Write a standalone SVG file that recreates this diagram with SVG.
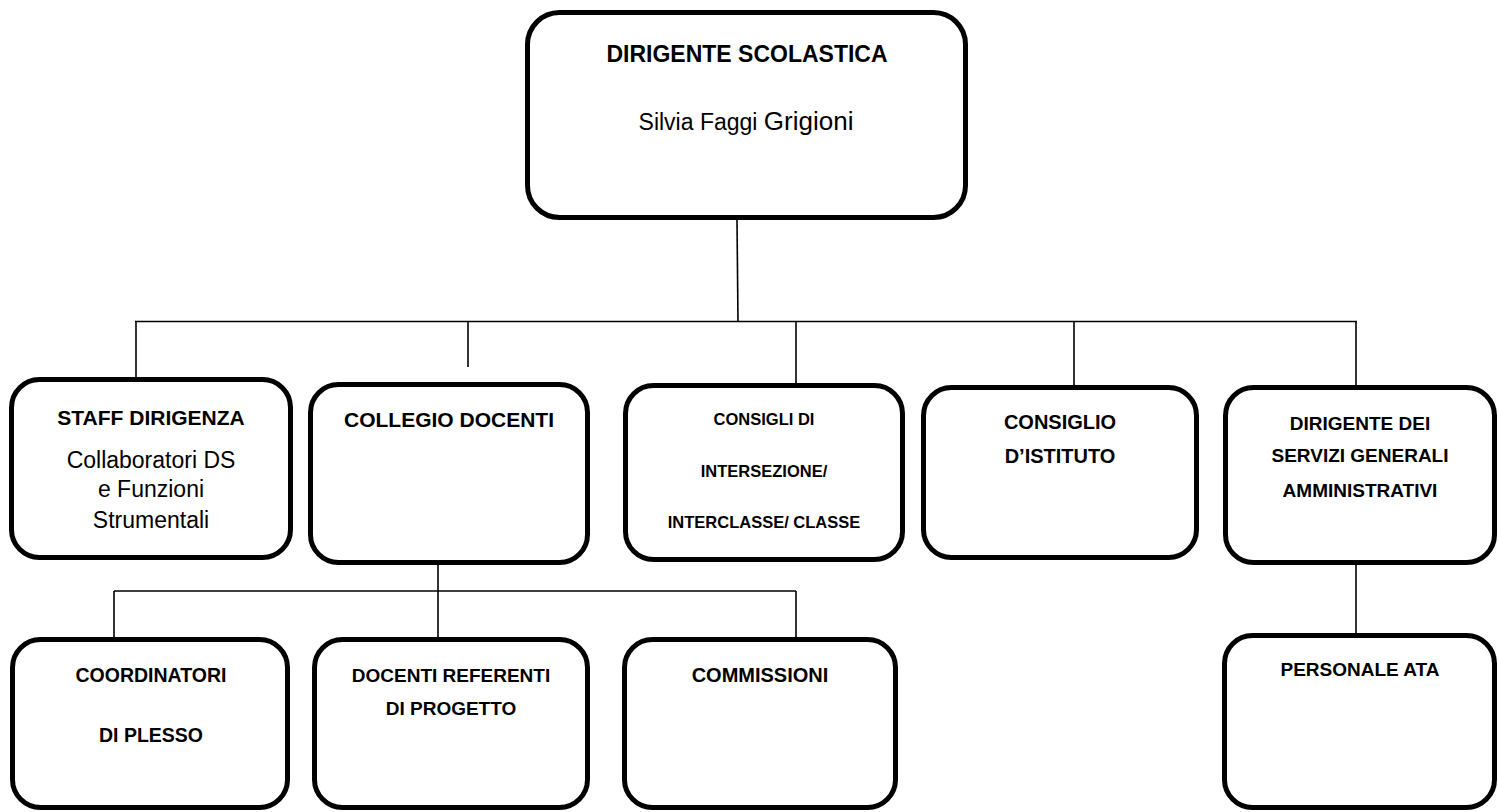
<svg xmlns="http://www.w3.org/2000/svg" width="1498" height="812" viewBox="0 0 1498 812">
<style>
.box{fill:#fff;stroke:#000;stroke-width:5}
.con{fill:none;stroke:#000;stroke-width:1.6}
text{font-family:"Liberation Sans","Open Sans",Arial,sans-serif;fill:#000;text-anchor:middle}
.b{font-weight:bold;font-size:20px}
.r{font-size:23px}
</style>
<rect width="1498" height="812" fill="#fff"/>
<g id="connectors">
<path class="con" d="M737 220 L738 321.5"/>
<path class="con" d="M135 321.5 H1357"/>
<path class="con" d="M136 321.5 V377"/>
<path class="con" d="M468 321.5 V367"/>
<path class="con" d="M796 321.5 V383"/>
<path class="con" d="M1074 321.5 V385"/>
<path class="con" d="M1356 321.5 V385"/>
<path class="con" d="M114 591 H796"/>
<path class="con" d="M114 591 V637"/>
<path class="con" d="M438 565 V637"/>
<path class="con" d="M796 591 V637"/>
<path class="con" d="M1356 565 V633"/>
</g>
<g id="dirigente">
<rect class="box" x="527.5" y="12.5" width="438" height="205" rx="32"/>
<text class="b" x="747" y="62" style="font-size:23px">DIRIGENTE SCOLASTICA</text>
<text x="746" y="130" style="font-size:23px">Silvia Faggi <tspan style="font-size:26px">Grigioni</tspan></text>
</g>
<g id="staff">
<rect class="box" x="11.5" y="379.5" width="279" height="178" rx="28"/>
<text class="b" x="151" y="425" style="font-size:21px">STAFF DIRIGENZA</text>
<text class="r" x="151" y="468">Collaboratori DS</text>
<text class="r" x="151" y="497">e Funzioni</text>
<text class="r" x="151" y="528">Strumentali</text>
</g>
<g id="collegio">
<rect class="box" x="310.5" y="384.5" width="277" height="178" rx="28"/>
<text class="b" x="449" y="427" style="font-size:21px">COLLEGIO DOCENTI</text>
</g>
<g id="consigli">
<rect class="box" x="625.5" y="385.5" width="277" height="174" rx="28"/>
<text class="b" x="764" y="425" style="font-size:16.5px">CONSIGLI DI</text>
<text class="b" x="764" y="477" style="font-size:16.5px">INTERSEZIONE/</text>
<text class="b" x="764" y="528" style="font-size:16.5px">INTERCLASSE/ CLASSE</text>
</g>
<g id="consiglio-istituto">
<rect class="box" x="923.5" y="387.5" width="273" height="170" rx="28"/>
<text class="b" x="1060" y="429">CONSIGLIO</text>
<text class="b" x="1060" y="463">D’ISTITUTO</text>
</g>
<g id="dsga">
<rect class="box" x="1225.5" y="387.5" width="269" height="175" rx="28"/>
<text class="b" x="1360" y="430" style="font-size:19px">DIRIGENTE DEI</text>
<text class="b" x="1360" y="462" style="font-size:19px">SERVIZI GENERALI</text>
<text class="b" x="1360" y="497" style="font-size:19px">AMMINISTRATIVI</text>
</g>
<g id="coordinatori">
<rect class="box" x="12.5" y="639.5" width="275" height="168" rx="28"/>
<text class="b" x="151" y="682" style="font-size:19.5px">COORDINATORI</text>
<text class="b" x="151" y="742" style="font-size:19.5px">DI PLESSO</text>
</g>
<g id="docenti-referenti">
<rect class="box" x="314.5" y="639.5" width="273" height="168" rx="28"/>
<text class="b" x="451" y="682" style="font-size:19px">DOCENTI REFERENTI</text>
<text class="b" x="451" y="715" style="font-size:19px">DI PROGETTO</text>
</g>
<g id="commissioni">
<rect class="box" x="624.5" y="639.5" width="271" height="168" rx="28"/>
<text class="b" x="760" y="682">COMMISSIONI</text>
</g>
<g id="personale-ata">
<rect class="box" x="1224.5" y="635.5" width="270" height="172" rx="28"/>
<text class="b" x="1360" y="676" style="font-size:19px">PERSONALE ATA</text>
</g>
</svg>
